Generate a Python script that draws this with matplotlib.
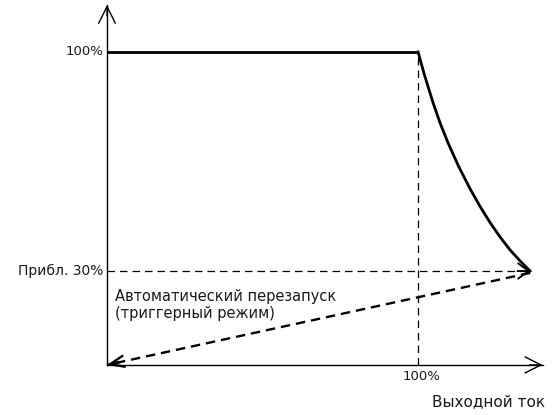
import numpy as np
import matplotlib.pyplot as plt

# values (% of nominal)
y_levels = [100, 30]              # output voltage levels
y_labels = ['100%', 'Прибл. 30%']
x_knee = 100                      # current limit point
x_label = '100%'
curve_x = [100, 102, 104.8, 107, 109.6, 113, 116.7, 120, 123.2,
           126.4, 129.6, 133, 136]
curve_y = [100, 92.8, 83.8, 77.5, 71.0, 63.5, 56.3, 50.5, 45.4,
           40.8, 36.7, 33.0, 30]
x_axis_end = 140
y_axis_end = 115
axis_title = 'Выходной ток'
note = 'Автоматический перезапуск\n(триггерный режим)'

plt.rcParams['font.family'] = ['DejaVu Sans']
fig = plt.figure(figsize=(5.59, 4.15), dpi=100)
ax = fig.add_axes([0, 0, 1, 1])
ax.set_xlim(-34.4, 145.3)
ax.set_ylim(-16.0, 116.6)
ax.axis('off')

txt = '#1a1a1a'


def head(x0, y0, x1, y1, hl, hw, lw):
    # solid open arrow head at (x1, y1), direction from (x0, y0)
    d = 0.03
    ax.annotate('', xy=(x1, y1), xytext=(x1 - d * (x1 - x0), y1 - d * (y1 - y0)),
                arrowprops=dict(arrowstyle='->,head_length=%g,head_width=%g' % (hl, hw),
                                lw=lw, color='k', shrinkA=0, shrinkB=0,
                                mutation_scale=1))


# axes with arrows
ax.plot([0, 0], [0, y_axis_end], color='k', lw=1.0)
ax.plot([0, x_axis_end], [0, 0], color='k', lw=1.0)
head(0, 0, 0, y_axis_end, 12, 6, 1.0)
head(0, 0, x_axis_end, 0, 11.5, 5.8, 1.0)

# characteristic: constant voltage then foldback
ax.plot([0, x_knee], [y_levels[0], y_levels[0]], color='k', lw=2.0,
        solid_capstyle='butt')
ax.plot(curve_x, curve_y, color='k', lw=2.0, solid_joinstyle='round')

# dashed guide at 100% current
ax.plot([x_knee, x_knee], [0, y_levels[0]], color='k', lw=0.9,
        linestyle=(0, (6, 4)))

# dashed 30% line to the end of the curve
ax.plot([0, curve_x[-1]], [y_levels[1], y_levels[1]], color='k', lw=0.9,
        linestyle=(0, (6, 4)))
head(0, y_levels[1], curve_x[-1], y_levels[1], 7.5, 5.5, 1.3)

# restart path back to origin
ax.plot([curve_x[-1], 0], [y_levels[1] - 0.6, 0], color='k', lw=1.7,
        linestyle=(0, (4, 2.5)))
head(curve_x[-1], y_levels[1] - 0.6, 0, 0, 10, 4, 1.7)

# labels
ax.text(-1.2, y_levels[0], y_labels[0], ha='right', va='center', fontsize=9.5,
        color=txt)
ax.text(-1.2, y_levels[1], y_labels[1], ha='right', va='center', fontsize=10,
        color=txt)
ax.text(x_knee + 1, -3.6, x_label, ha='center', va='center', fontsize=9.5, color=txt)
ax.text(122.5, -11.8, axis_title, ha='center', va='center', fontsize=11, color=txt)
ax.text(2.6, 24.3, note, ha='left', va='top', fontsize=10.5, color=txt,
        linespacing=1.15)

fig.savefig('out.png', dpi=100)
